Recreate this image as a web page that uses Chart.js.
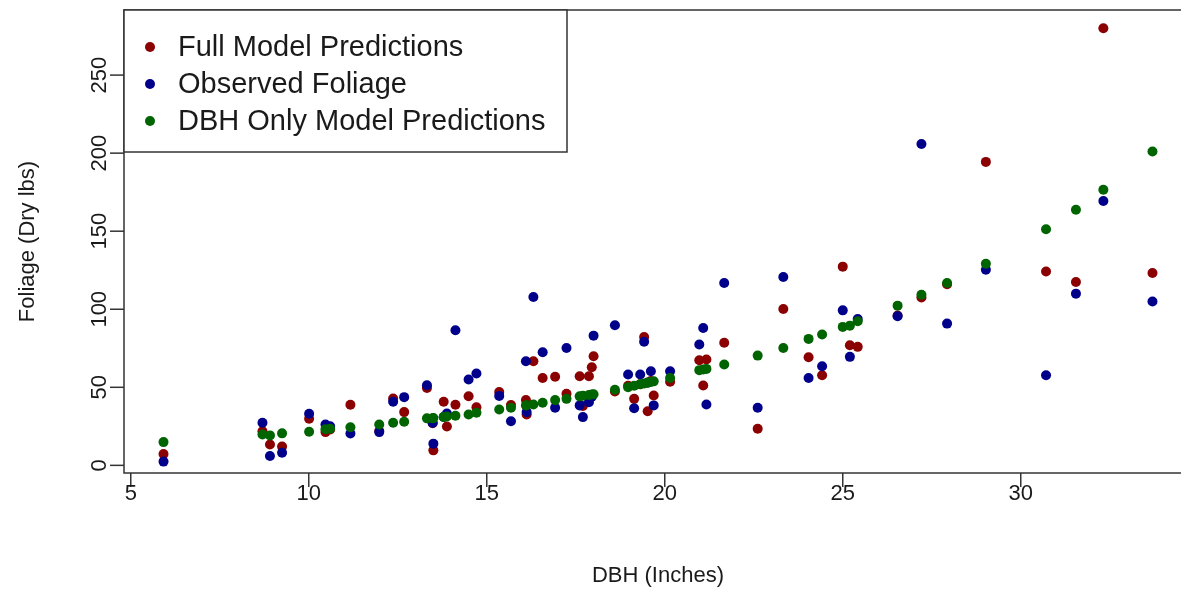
<!DOCTYPE html>
<html>
<head>
<meta charset="utf-8">
<script src="https://cdn.jsdelivr.net/npm/chart.js@4/dist/chart.umd.min.js"></script>
<style>
  html, body { margin: 0; padding: 0; background: #fff; overflow: hidden; }
  #wrap { width: 1181px; height: 589px; overflow: hidden; }
  canvas { display: block; }
</style>
</head>
<body>
<div id="wrap"><canvas id="c" width="1210" height="589"></canvas></div>
<script>
// Tree diameter at breast height (inches)
const dbh = [
  5.92, 8.70, 8.91, 9.25, 10.01, 10.47, 10.60, 11.17, 11.98, 12.37,
  12.68, 13.32, 13.48, 13.50, 13.79, 13.88, 14.12, 14.49, 14.71, 15.35,
  15.68, 16.10, 16.12, 16.31, 16.57, 16.92, 17.24, 17.61, 17.70, 17.87,
  17.95, 18.00, 18.60, 18.97, 19.14, 19.31, 19.42, 19.52, 19.61, 19.69,
  20.15, 20.97, 21.08, 21.17, 21.67, 22.61, 23.33, 24.04, 24.42, 25.00,
  25.20, 25.42, 26.54, 27.21, 27.93, 29.02, 30.71, 31.55, 32.32, 33.70
];

// Measured foliage (dry lbs)
const observed = [
  2.4, 27.3, 6.0, 8.1, 33.0, 26.2, 25.1, 20.4, 21.3, 40.7,
  43.7, 51.3, 27.3, 13.9, 31.0, 33.2, 86.5, 55.0, 58.8, 44.5,
  28.3, 66.7, 34.1, 107.9, 72.5, 36.9, 75.2, 38.4, 30.9, 40.5,
  44.0, 83.1, 89.7, 58.2, 36.6, 58.2, 79.2, 53.0, 60.3, 38.4,
  60.3, 77.4, 88.0, 39.0, 116.8, 36.9, 120.7, 56.0, 63.5, 99.3,
  69.5, 93.8, 95.5, 205.9, 90.8, 125.3, 57.7, 110.0, 169.4, 105.0
];

// Predictions from the full model
const fullPred = [
  7.2, 21.9, 13.4, 12.0, 29.8, 21.3, 23.0, 38.8, 22.0, 42.8,
  34.1, 49.5, 27.0, 9.6, 40.7, 24.9, 38.8, 44.3, 37.2, 47.0,
  38.6, 41.8, 32.6, 66.7, 56.0, 56.8, 45.8, 57.1, 38.0, 57.1,
  62.9, 69.9, 47.3, 51.0, 42.6, 52.0, 82.2, 34.7, 54.0, 44.8,
  53.6, 67.3, 51.2, 67.8, 78.5, 23.5, 100.2, 69.3, 57.7, 127.3,
  76.9, 75.9, 96.0, 107.5, 116.0, 194.4, 124.2, 117.5, 280.0, 123.2
];

// Predictions from the DBH-only model
const dbhPred = [
  14.9, 19.8, 19.2, 20.5, 21.5, 23.2, 23.5, 24.4, 26.2, 27.3,
  27.9, 30.1, 30.1, 30.3, 31.0, 31.3, 31.8, 32.6, 33.7, 35.8,
  36.9, 38.4, 38.5, 39.0, 40.1, 41.8, 42.6, 44.2, 44.6, 45.1,
  45.4, 45.6, 48.4, 50.1, 51.0, 51.9, 52.4, 52.9, 53.4, 53.8,
  56.0, 61.0, 61.4, 61.8, 64.6, 70.3, 75.2, 81.0, 83.8, 88.7,
  89.5, 92.3, 102.3, 109.3, 116.8, 129.2, 151.3, 163.7, 176.5, 201.0
];

const xTicks = [5, 10, 15, 20, 25, 30];
const yTicks = [0, 50, 100, 150, 200, 250];

const seriesNames = ["Full Model Predictions", "Observed Foliage", "DBH Only Model Predictions"];
const seriesColors = ["#8B0000", "#00008B", "#006400"];

const FONT = '"Liberation Sans", Arial, sans-serif';
const INK = "#1a1a1a";
const FRAME = "#333";
const DOT = 5;

function pts(ys) { return dbh.map((x, i) => ({ x: x, y: ys[i] })); }

// R-style box, axes, titles and legend drawn on top of the library scales
const baseGraphics = {
  id: "baseGraphics",
  afterDraw(chart) {
    const ctx = chart.ctx;
    const a = chart.chartArea;
    const xs = chart.scales.x, ys = chart.scales.y;
    ctx.save();
    ctx.strokeStyle = FRAME;
    ctx.lineWidth = 1.5;
    ctx.strokeRect(a.left, a.top, a.right - a.left, a.bottom - a.top);

    // x axis ticks and labels
    ctx.fillStyle = INK;
    ctx.font = "22px " + FONT;
    ctx.textAlign = "center";
    ctx.textBaseline = "middle";
    xTicks.forEach(v => {
      const px = xs.getPixelForValue(v);
      ctx.beginPath();
      ctx.moveTo(px, a.bottom);
      ctx.lineTo(px, a.bottom + 14);
      ctx.stroke();
      ctx.fillText(String(v), px, a.bottom + 21);
    });

    // y axis ticks and rotated labels
    yTicks.forEach(v => {
      const py = ys.getPixelForValue(v);
      ctx.beginPath();
      ctx.moveTo(a.left, py);
      ctx.lineTo(a.left - 14, py);
      ctx.stroke();
      ctx.save();
      ctx.translate(a.left - 24, py);
      ctx.rotate(-Math.PI / 2);
      ctx.fillText(String(v), 0, 0);
      ctx.restore();
    });

    // axis titles
    ctx.fillText("DBH (Inches)", (a.left + a.right) / 2, 576);
    ctx.save();
    ctx.translate(28, (a.top + a.bottom) / 2);
    ctx.rotate(-Math.PI / 2);
    ctx.fillText("Foliage (Dry lbs)", 0, 0);
    ctx.restore();

    // legend box in the top-left corner
    const lx = a.left, ly = a.top, lw = 443, lh = 142;
    ctx.fillStyle = "#fff";
    ctx.fillRect(lx, ly, lw, lh);
    ctx.strokeRect(lx, ly, lw, lh);
    ctx.font = "29px " + FONT;
    ctx.textAlign = "left";
    seriesNames.forEach((name, i) => {
      const cy = ly + 37 + i * 37;
      ctx.fillStyle = seriesColors[i];
      ctx.beginPath();
      ctx.arc(lx + 26, cy, DOT, 0, Math.PI * 2);
      ctx.fill();
      ctx.fillStyle = INK;
      ctx.fillText(name, lx + 54, cy + 1);
    });
    ctx.restore();
  }
};

const ds = (i, ys, order) => ({
  label: seriesNames[i],
  data: pts(ys),
  backgroundColor: seriesColors[i],
  borderWidth: 0,
  pointRadius: DOT,
  pointHoverRadius: DOT,
  order: order
});

new Chart(document.getElementById("c"), {
  type: "scatter",
  data: {
    datasets: [
      ds(0, fullPred, 2),
      ds(1, observed, 1),
      ds(2, dbhPred, 0)
    ]
  },
  options: {
    responsive: false,
    animation: false,
    events: [],
    layout: { padding: { left: 124, top: 10, right: 18, bottom: 116 } },
    scales: {
      x: { type: "linear", min: 4.81, max: 34.81, display: false },
      y: { type: "linear", min: -4.9, max: 291.7, display: false }
    },
    plugins: {
      legend: { display: false },
      tooltip: { enabled: false }
    }
  },
  plugins: [baseGraphics]
});
</script>
</body>
</html>
